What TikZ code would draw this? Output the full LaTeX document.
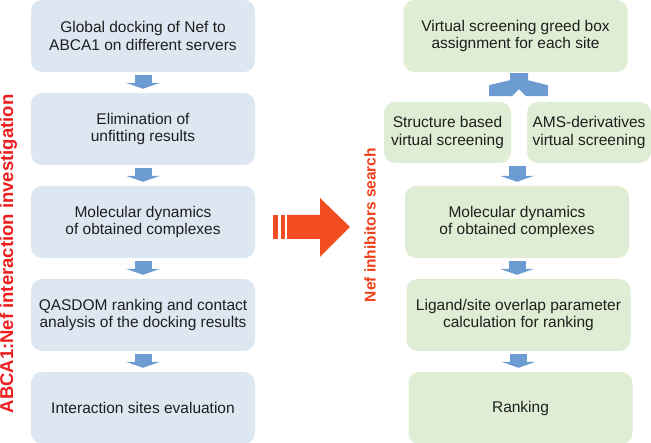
\documentclass[tikz,border=0pt]{standalone}
\usepackage{fontspec}
\setmainfont{Liberation Sans}
\usetikzlibrary{arrows.meta}

\definecolor{leftfill}{RGB}{221,231,241}
\definecolor{rightfill}{RGB}{222,237,211}
\definecolor{stepblue}{RGB}{108,156,210}
\definecolor{bigred}{RGB}{242,76,34}
\definecolor{labelred}{RGB}{238,30,30}
\definecolor{labelorange}{RGB}{240,62,24}
\definecolor{boxtext}{RGB}{30,30,30}

\begin{document}
\begin{tikzpicture}[x=1pt,y=1pt,>=Latex,
  bluebox/.style={fill=leftfill,rounded corners=11pt,minimum width=224pt,minimum height=72pt,align=center,text=boxtext,font=\fontsize{15.5}{17.5}\selectfont,inner sep=0pt},
  greenbox/.style={bluebox,fill=rightfill},
  downarrow/.style={draw=stepblue,line width=17pt,-{Triangle[length=6pt,width=34pt]},shorten <=3pt,shorten >=4pt},
  sidelabel/.style={rotate=90,font=\bfseries\fontsize{18.5}{20}\selectfont,inner sep=0pt}]
\useasboundingbox (0,0) rectangle (651,443);

% left column: ABCA1:Nef interaction
\node[bluebox] (dock) at (143,407) {Global docking of Nef to\\ABCA1 on different servers};
\node[bluebox] (elim) at (143,314) {Elimination of\\unfitting results};
\node[bluebox] (mdleft) at (143,221) {Molecular dynamics\\of obtained complexes};
\node[bluebox] (qasdom) at (143,128) {QASDOM ranking and contact\\analysis of the docking results};
\node[bluebox] (sites) at (143,35) {Interaction sites evaluation};
\draw[downarrow] (dock.south)--(elim.north);
\draw[downarrow] (elim.south)--(mdleft.north);
\draw[downarrow] (mdleft.south)--(qasdom.north);
\draw[downarrow] (qasdom.south)--(sites.north);
\node[sidelabel,text=labelred] (leftlabel) at (8.5,189) {ABCA1:Nef interaction investigation};

% big arrow between the two searches
\fill[bigred] (273,204) rectangle (278,228);
\fill[bigred] (280.5,204) rectangle (285,228);
\fill[bigred] (287,228)--(320,228)--(320,245)--(350,216)--(320,186)--(320,204)--(287,204)--cycle;

% right column: Nef inhibitors
\node[sidelabel,text=labelorange,font=\bfseries\fontsize{15.5}{17}\selectfont] (rightlabel) at (370,218) {Nef inhibitors search};
\node[greenbox] (grid) at (515.5,407) {Virtual screening greed box\\assignment for each site};
\node[greenbox,minimum width=127pt,minimum height=61pt] (sbvs) at (447.5,310.5) {Structure based\\virtual screening};
\node[greenbox,minimum width=124pt,minimum height=61pt] (amsvs) at (589,310.5) {AMS-derivatives\\virtual screening};
\node[greenbox] (mdright) at (517,221) {Molecular dynamics\\of obtained complexes};
\node[greenbox] (overlap) at (518.5,128) {Ligand/site overlap parameter\\calculation for ranking};
\node[greenbox] (rank) at (520.5,35) {Ranking};
\fill[stepblue,shift={(grid.south)},xshift=3.5pt] (-9,-1)--(9,-1)--(9,-8)--(29,-13)--(29,-24)--(7,-24)--(0,-17)--(-7,-24)--(-30,-24)--(-30,-13)--(-9,-8)--cycle;
\draw[downarrow] (mdright.north |- sbvs.south)--(mdright.north);
\draw[downarrow] (mdright.south)--(mdright.south |- overlap.north);
\draw[downarrow] (overlap.south)--(overlap.south |- rank.north);
\end{tikzpicture}
\end{document}
